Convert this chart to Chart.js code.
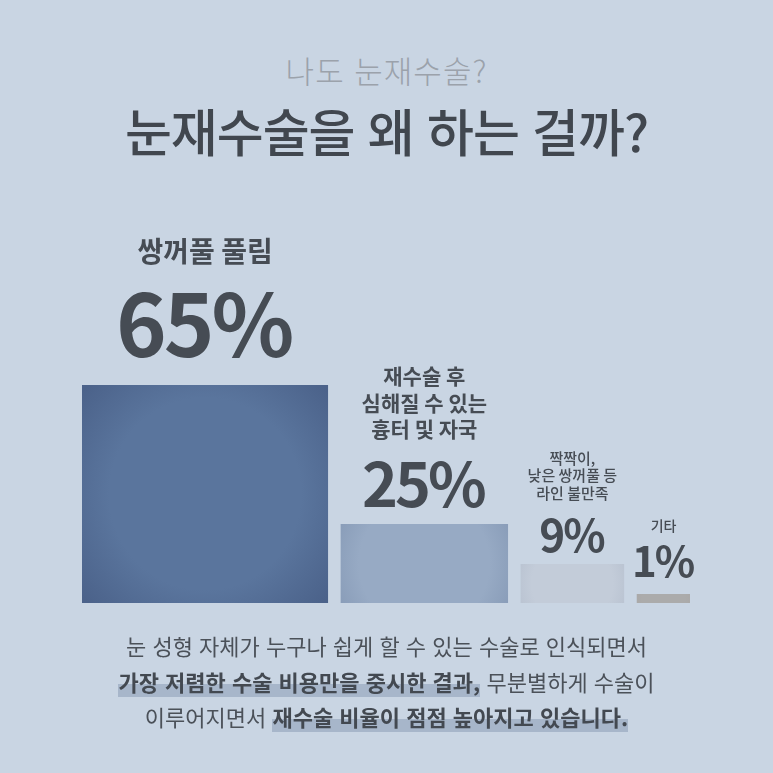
<!DOCTYPE html>
<html lang="ko">
<head>
<meta charset="utf-8">
<script src="https://cdn.jsdelivr.net/npm/chart.js@4/dist/chart.umd.min.js"></script>
<style>
  html, body { margin: 0; padding: 0; }
  body {
    width: 773px; height: 773px; overflow: hidden;
    background: #c9d5e3;
    font-family: "Noto Sans CJK KR", "Noto Sans", sans-serif;
    position: relative;
  }
  #wrap { position: absolute; left: 0; top: 0; width: 773px; height: 773px; }
  .sub {
    position: absolute; top: 47px; width: 100%; text-align: center;
    font-size: 31px; font-weight: 300; color: #9ba2ab; letter-spacing: 1px;
  }
  .title {
    position: absolute; top: 93px; width: 100%; text-align: center;
    font-size: 51px; font-weight: 500; color: #41474f; letter-spacing: -1px;
  }
  .note {
    position: absolute; top: 628px; width: 100%; text-align: center;
    font-size: 22px; line-height: 35.5px; color: #4b5159;
  }
  .note b {
    font-weight: 700; color: #434951;
    background: linear-gradient(to bottom, transparent 58%, #a7b6ca 58%, #a7b6ca 100%);
  }
</style>
</head>
<body>
<div class="sub">나도 눈재수술?</div>
<div class="title">눈재수술을 왜 하는 걸까?</div>
<div id="wrap"><canvas id="eyeChart" width="773" height="773"></canvas></div>
<div class="note">
  눈 성형 자체가 누구나 쉽게 할 수 있는 수술로 인식되면서<br>
  <b>가장 저렴한 수술 비용만을 중시한 결과,</b> 무분별하게 수술이<br>
  이루어지면서 <b>재수술 비율이 점점 높아지고 있습니다.</b>
</div>
<script>
/* reasons for re-operation */
const reasons = [
  ["쌍꺼풀 풀림"],
  ["재수술 후", "심해질 수 있는", "흉터 및 자국"],
  ["짝짝이,", "낮은 쌍꺼풀 등", "라인 불만족"],
  ["기타"]
];
const shares = [65, 25, 9, 1];            // % label on each bar
const barHeights = [100, 36.2, 17.9, 4.1]; // drawn height, relative to the tallest bar
const barWidths = [40.5, 27.6, 17.1, 8.9]; // drawn width, share of the row
const GAP = 2;

const fills = [
  ["#5a759d", "#4b628a"],
  ["#97aac4", "#8195b2"],
  ["#c3ccd9", "#b3bdcc"],
  ["#ababab", "#a8a6a5"]
];
// label styles per bar: pct size, spacing, lift above bar, label size, weight, line height, label lift above pct
const looks = [
  { pct: 86, sp: -3, lift: 28, lab: 28, w: 700, lh: 30, up: 95 },
  { pct: 61, sp: -3, lift: 17, lab: 21, w: 700, lh: 26.5, up: 70 },
  { pct: 44, sp: -2, lift: 12, lab: 15, w: 500, lh: 17.5, up: 53 },
  { pct: 42, sp: -2, lift: 17, lab: 14, w: 500, lh: 17, up: 46 }
];

// left edges follow from the widths
const lefts = [];
barWidths.reduce((acc, w, i) => { lefts.push(acc); return acc + w + GAP; }, 0);

function barFill(i) {
  return function (ctx) {
    const chart = ctx.chart;
    const xs = chart.scales.x, ys = chart.scales.y;
    if (!chart.chartArea) return fills[i][0];
    const x0 = xs.getPixelForValue(lefts[i]);
    const x1 = xs.getPixelForValue(lefts[i] + barWidths[i]);
    const y0 = ys.getPixelForValue(barHeights[i]);
    const y1 = ys.getPixelForValue(0);
    const cx = (x0 + x1) / 2, cy = (y0 + y1) / 2;
    const r = Math.max(x1 - x0, y1 - y0) * 0.65;
    const g = chart.ctx.createRadialGradient(cx, cy, 0, cx, cy, r);
    g.addColorStop(0, fills[i][0]);
    g.addColorStop(0.6, fills[i][0]);
    g.addColorStop(1, fills[i][1]);
    return g;
  };
}

const datasets = shares.map((s, i) => ({
  label: reasons[i].join(" "),
  data: [
    { x: lefts[i], y: barHeights[i] },
    { x: lefts[i] + barWidths[i], y: barHeights[i] }
  ],
  fill: "origin",
  backgroundColor: barFill(i),
  borderWidth: 0,
  pointRadius: 0,
  tension: 0
}));

/* Labels over the bars */
const barLabels = {
  id: "barLabels",
  afterDatasetsDraw(chart) {
    const c = chart.ctx;
    const xs = chart.scales.x, ys = chart.scales.y;
    c.save();
    c.textAlign = "center";
    c.textBaseline = "alphabetic";
    c.fillStyle = "#464c54";
    shares.forEach((s, i) => {
      const L = looks[i];
      const cx = xs.getPixelForValue(lefts[i] + barWidths[i] / 2);
      const top = ys.getPixelForValue(barHeights[i]);
      const pctBase = top - L.lift;
      c.letterSpacing = L.sp + "px";
      c.font = "700 " + L.pct + "px 'Noto Sans CJK KR', 'Noto Sans', sans-serif";
      c.fillText(s + "%", cx + L.sp / 2, pctBase);
      c.letterSpacing = "0px";
      c.font = L.w + " " + L.lab + "px 'Noto Sans CJK KR', sans-serif";
      const lines = reasons[i];
      const last = pctBase - L.up;
      lines.forEach((t, k) => {
        c.fillText(t, cx, last - (lines.length - 1 - k) * L.lh);
      });
    });
    c.restore();
  }
};

new Chart(document.getElementById("eyeChart"), {
  type: "line",
  data: { datasets },
  options: {
    responsive: false,
    animation: false,
    layout: { padding: { left: 82, right: 83, top: 385, bottom: 170 } },
    scales: {
      x: { type: "linear", min: 0, max: 100, display: false },
      y: { type: "linear", min: 0, max: 100, display: false }
    },
    plugins: {
      legend: { display: false },
      tooltip: { enabled: false }
    }
  },
  plugins: [barLabels]
});
</script>
</body>
</html>
